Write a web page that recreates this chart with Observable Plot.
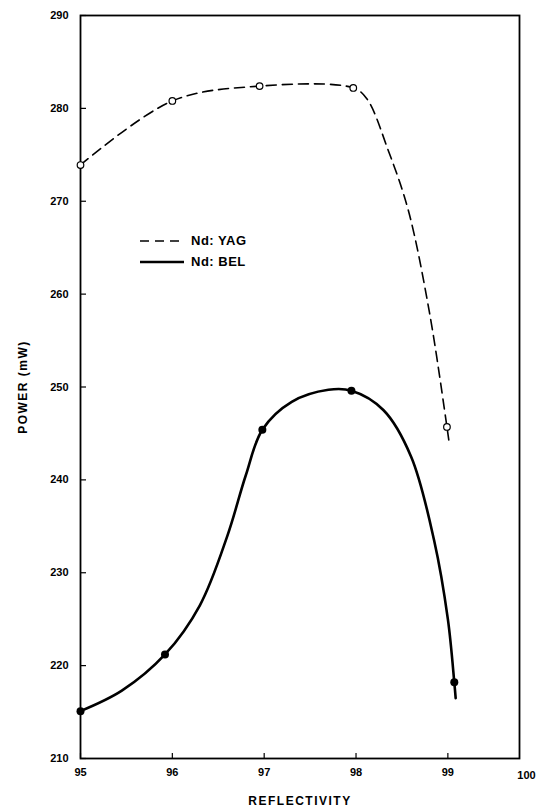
<!DOCTYPE html>
<html><head><meta charset="utf-8">
<script src="https://cdn.jsdelivr.net/npm/d3@7"></script>
<script src="https://cdn.jsdelivr.net/npm/@observablehq/plot@0.6"></script>
<style>
body{margin:0;background:#fff;}
#wrap{position:relative;width:536px;height:812px;}
#legend{position:absolute;left:140px;top:230px;font:bold 13px "Liberation Sans",Arial,sans-serif;color:#000;letter-spacing:0.5px;}
#legend .row{display:flex;align-items:center;height:21px;}
#legend svg{margin-right:5px;}
svg [aria-label="x-axis label"] text, svg [aria-label="y-axis label"] text{letter-spacing:1.5px;}
</style></head><body><div id="wrap"><div id="legend"></div></div>
<script>
// Tick values
const xTicks = [95, 96, 97, 98, 99];
const xExtraTick = [100];
const yTicks = [210, 220, 230, 240, 250, 260, 270, 280, 290];

// Measured points (Nd:YAG open circles, Nd:BEL filled)
const yagX = [95, 96, 96.95, 97.97, 98.99];
const yagY = [273.9, 280.8, 282.4, 282.2, 245.7];
const belX = [95, 95.92, 96.98, 97.95, 99.07];
const belY = [215.1, 221.2, 245.4, 249.6, 218.2];

// Hand-drawn curves
const yagLineX = [95, 96, 96.95, 97.97, 98.12, 98.35, 98.57, 98.8, 98.99, 99.01];
const yagLineY = [273.9, 280.8, 282.4, 282.2, 281.0, 275.5, 269.0, 258.0, 245.7, 244.3];
const belLineX = [95, 95.45, 95.92, 96.3, 96.6, 96.8, 96.98, 97.3, 97.7, 97.95, 98.3, 98.6, 98.85, 99.0, 99.07, 99.085];
const belLineY = [215.1, 217.3, 221.2, 226.5, 234.0, 240.5, 245.4, 248.4, 249.7, 249.6, 247.5, 242.5, 233.5, 225.0, 218.2, 216.5];

const seriesNames = ["Nd: YAG", "Nd: BEL"];

const toRows = (xs, ys) => xs.map((x, i) => ({x, y: ys[i]}));
const yag = toRows(yagX, yagY), bel = toRows(belX, belY);
const yagLine = toRows(yagLineX, yagLineY), belLine = toRows(belLineX, belLineY);

const chart = Plot.plot({
  width: 536, height: 812,
  marginLeft: 80, marginRight: 17, marginTop: 15, marginBottom: 54,
  x: {domain: [95, 99.78]},
  y: {domain: [210, 290]},
  style: {fontFamily: '"Liberation Sans", Arial, sans-serif', fontSize: "11px", fontWeight: "bold", color: "#000", background: "#fff", overflow: "visible"},
  marks: [
    Plot.frame({stroke: "#000", strokeWidth: 1.8}),
    Plot.axisX(xTicks, {tickSize: -5, tickPadding: 15, strokeWidth: 1.2, label: "REFLECTIVITY", labelAnchor: "center", labelOffset: 46, labelArrow: "none", fontSize: 11}),
    Plot.text(xExtraTick, {x: d => d, frameAnchor: "bottom", dy: 20, dx: -4, textAnchor: "end", text: d => String(d), fontSize: 11, clip: false}),
    Plot.axisY(yTicks, {tickSize: -6, tickPadding: 18, strokeWidth: 1.2, label: "POWER (mW)", labelAnchor: "center", labelOffset: 62, labelArrow: "none", fontSize: 11}),
    Plot.line(yagLine, {x: "x", y: "y", curve: "catmull-rom", stroke: "#000", strokeWidth: 1.6, strokeDasharray: "10,6"}),
    Plot.line(belLine, {x: "x", y: "y", curve: "catmull-rom", stroke: "#000", strokeWidth: 2.6}),
    Plot.dot(yag, {x: "x", y: "y", r: 3.3, fill: "#fff", stroke: "#000", strokeWidth: 1.2}),
    Plot.dot(bel, {x: "x", y: "y", r: 4, fill: "#000", stroke: "none"})
  ]
});
chart.querySelectorAll('[aria-label="x-axis label"] text, [aria-label="y-axis label"] text').forEach(t => t.setAttribute("font-size", "12"));
document.getElementById("wrap").prepend(chart);

const legend = document.getElementById("legend");
seriesNames.forEach((name, i) => {
  const row = document.createElement("div");
  row.className = "row";
  row.innerHTML = `<svg width="46" height="6"><line x1="0" y1="3" x2="44" y2="3" stroke="#000" stroke-width="${i === 0 ? 1.6 : 2.4}" ${i === 0 ? 'stroke-dasharray="9,6"' : ""}/></svg><span>${name}</span>`;
  legend.appendChild(row);
});
</script></body></html>
